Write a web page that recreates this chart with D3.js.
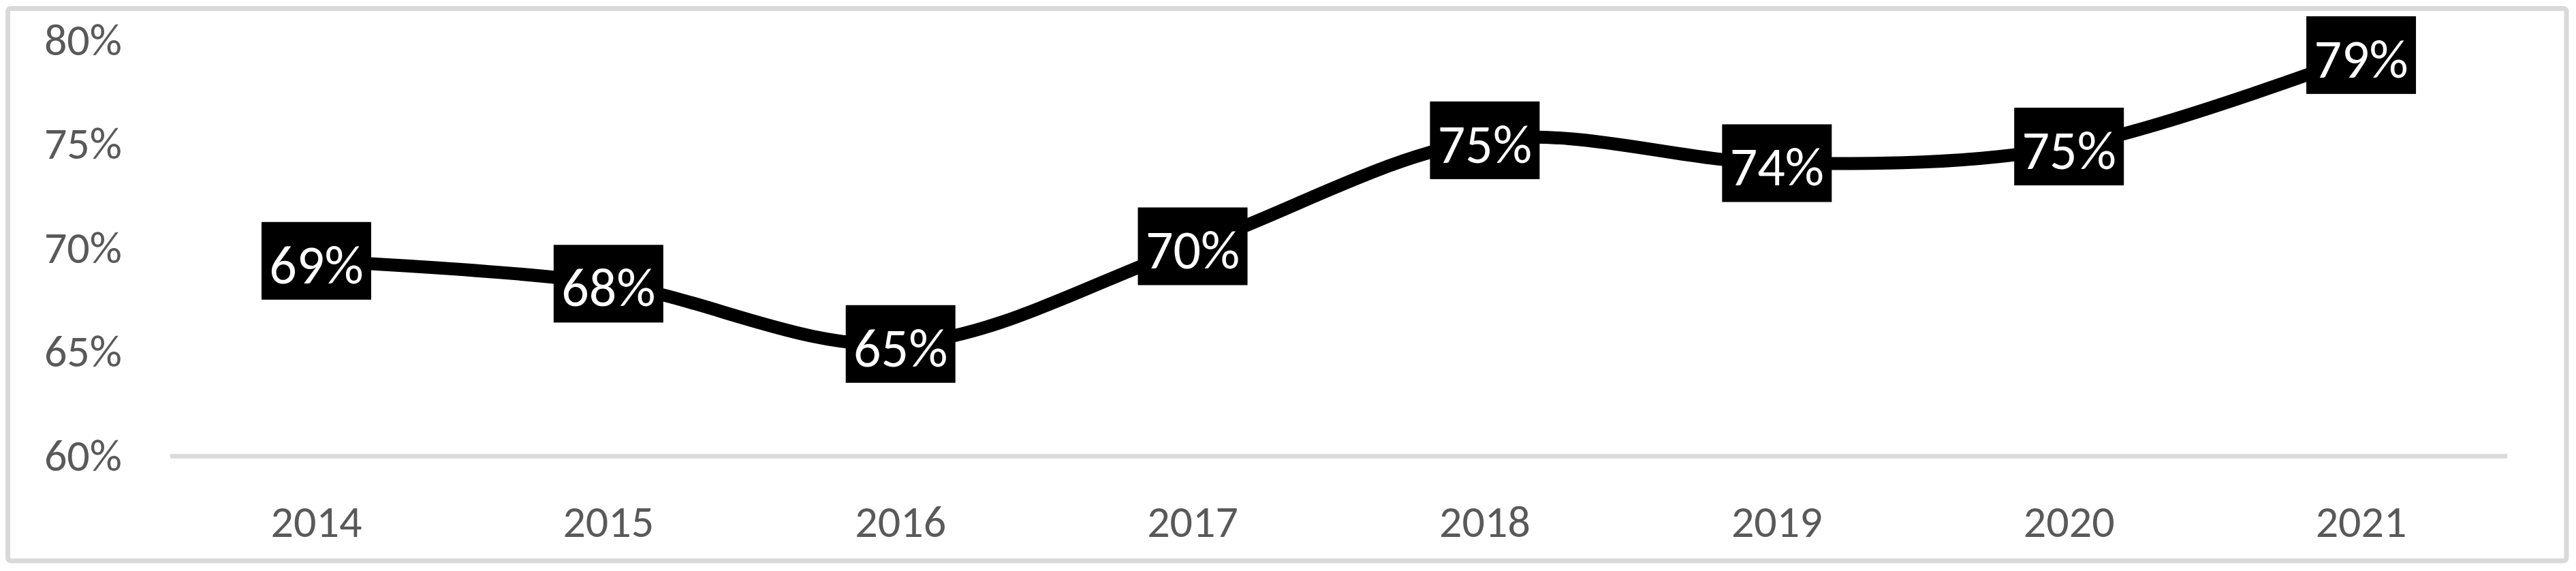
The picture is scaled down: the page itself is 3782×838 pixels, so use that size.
<!DOCTYPE html>
<html>
<head>
<meta charset="utf-8">
<script src="https://cdn.jsdelivr.net/npm/d3@7"></script>
<style>
  body { margin: 0; background: #fff; }
  svg { display: block; }
  text { font-family: Carlito, Calibri, Lato, sans-serif; }
</style>
</head>
<body>
<svg id="chart" width="3782" height="838"></svg>
<script>
// data
var years = ["2014", "2015", "2016", "2017", "2018", "2019", "2020", "2021"];
var values = [69.4, 68.3, 65.4, 70.1, 75.2, 74.1, 74.9, 79.3];
var yTicks = [60, 65, 70, 75, 80];

// note: "top" is taken by window.top, so use plotTop / plotBottom
var svg = d3.select("#chart"),
	plotLeft = 250, plotRight = 3681,
	plotTop = 59.5, plotBottom = 669.5,
	boxW = 161, boxH = 114;

var x = d3.scaleBand().domain(years).range([plotLeft, plotRight]).padding(0),
	y = d3.scaleLinear().domain([60, 80]).range([plotBottom, plotTop]);

var points = years.map(function(d, i) { return { year: d, v: values[i] }; });

function cx(d) { return x(d.year) + x.bandwidth() / 2; }

// chart area border
svg.append("rect")
	.attr("x", 11.5).attr("y", 12.5)
	.attr("width", 3756.5).attr("height", 810.5)
	.attr("rx", 4)
	.attr("fill", "#fff")
	.attr("stroke", "#d9d9d9")
	.attr("stroke-width", 7);

// y axis labels (no lines)
var yAxis = svg.append("g")
	.attr("transform", "translate(" + plotLeft + ",0)")
	.call(d3.axisLeft(y).tickValues(yTicks).tickSize(0).tickPadding(71)
		.tickFormat(function(d) { return d + "%"; }));
yAxis.select(".domain").remove();
yAxis.selectAll("text")
	.attr("dy", "20.5px")
	.attr("fill", "#595959")
	.style("font-size", "66px");

// baseline
svg.append("line")
	.attr("x1", plotLeft).attr("x2", plotRight)
	.attr("y1", y(60)).attr("y2", y(60))
	.attr("stroke", "#d9d9d9")
	.attr("stroke-width", 6.5);

// x axis labels
var xAxis = svg.append("g")
	.attr("transform", "translate(0," + plotBottom + ")")
	.call(d3.axisBottom(x).tickSize(0));
xAxis.select(".domain").remove();
xAxis.selectAll("text")
	.attr("y", 118.5)
	.attr("dy", 0)
	.attr("fill", "#595959")
	.style("font-size", "66px");

// smoothed line
var line = d3.line()
	.x(cx)
	.y(function(d) { return y(d.v); })
	.curve(d3.curveCardinal.tension(0));

svg.append("path")
	.datum(points)
	.attr("d", line)
	.attr("fill", "none")
	.attr("stroke", "#000")
	.attr("stroke-width", 19)
	.attr("stroke-linejoin", "round");

// data labels in black boxes
var lab = svg.append("g").selectAll("g")
	.data(points)
	.enter().append("g")
	.attr("transform", function(d) { return "translate(" + cx(d) + "," + y(d.v) + ")"; });

lab.append("rect")
	.attr("x", -boxW / 2).attr("y", -boxH / 2)
	.attr("width", boxW).attr("height", boxH)
	.attr("fill", "#000");

lab.append("text")
	.attr("text-anchor", "middle")
	.attr("y", 33)
	.attr("fill", "#fff")
	.style("font-size", "80px")
	.text(function(d) { return Math.round(d.v) + "%"; });
</script>
</body>
</html>
